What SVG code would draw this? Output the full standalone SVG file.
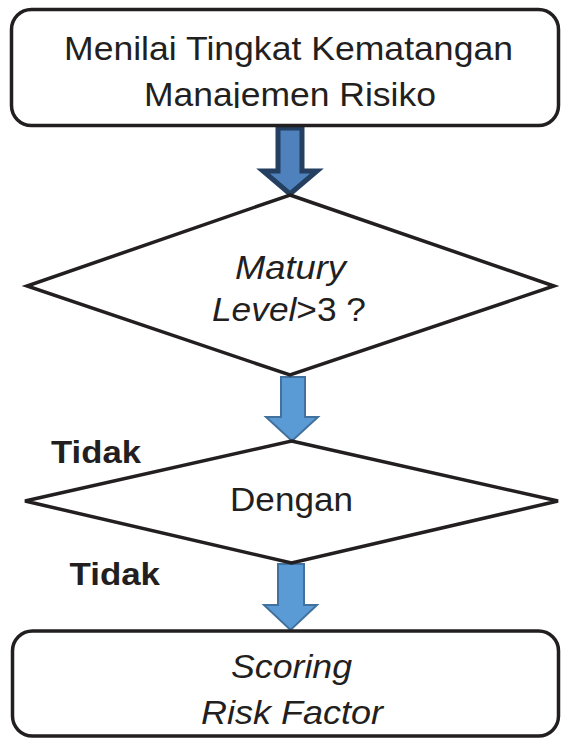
<svg xmlns="http://www.w3.org/2000/svg" width="561" height="739" viewBox="0 0 561 739">
<style>
.box{fill:#ffffff;stroke:#231f20;stroke-width:3.5}
.dia{fill:#ffffff;stroke:#231f20;stroke-width:3.5;stroke-linejoin:miter}
.t{font-family:"Liberation Sans",Arial,sans-serif;font-size:33px;fill:#231f20}
.i{font-style:italic}
.b{font-weight:bold;font-size:32px}
.a1{fill:#4f81bd;stroke:#243f60;stroke-width:5;stroke-linejoin:miter}
.a2{fill:#5b9bd5;stroke:#41719c;stroke-width:2;stroke-linejoin:miter}
</style>
<defs>
<clipPath id="clipTop"><rect x="0" y="0" width="561" height="108"/></clipPath>
<clipPath id="clipBot"><rect x="0" y="630" width="561" height="94"/></clipPath>
</defs>
<rect width="561" height="739" fill="#ffffff"/>
<g id="connectors">
<polygon class="a1" points="278,128 302,128 302,171 317,171 290,194 263,171 278,171"/>
<polygon class="a2" points="281,377 305,377 305,417 318,417 292,441 266,417 281,417"/>
<polygon class="a2" points="278,564 304,564 304,605 317,605 290.5,630 264,605 278,605"/>
</g>
<g id="node-assess">
<rect class="box" x="11.5" y="9.5" width="547" height="116" rx="20" ry="20"/>
<g clip-path="url(#clipTop)">
<text class="t" x="64" y="60" textLength="449" lengthAdjust="spacingAndGlyphs">Menilai Tingkat Kematangan</text>
<text class="t" x="144" y="106" textLength="292" lengthAdjust="spacingAndGlyphs">Manajemen Risiko</text>
</g>
</g>
<g id="node-decision1">
<polygon class="dia" points="290,195 554,286 290,375 27,286"/>
<text class="t i" x="235" y="279" textLength="111" lengthAdjust="spacingAndGlyphs">Matury</text>
<text class="t" x="212" y="321" textLength="154" lengthAdjust="spacingAndGlyphs"><tspan class="i">Level</tspan>&gt;3 ?</text>
</g>
<g id="node-decision2">
<polygon class="dia" points="291.5,441 558,501 291.5,563 25,501"/>
<text class="t" x="230" y="511" textLength="123" lengthAdjust="spacingAndGlyphs">Dengan</text>
</g>
<g id="label-tidak1">
<text class="t b" x="51" y="462.5" textLength="90" lengthAdjust="spacingAndGlyphs">Tidak</text>
</g>
<g id="label-tidak2">
<text class="t b" x="69.5" y="585" textLength="90.5" lengthAdjust="spacingAndGlyphs">Tidak</text>
</g>
<g id="node-scoring">
<rect class="box" x="12.5" y="631" width="546" height="105" rx="20" ry="20"/>
<g clip-path="url(#clipBot)">
<text class="t i" x="231" y="678" textLength="121" lengthAdjust="spacingAndGlyphs">Scoring</text>
<text class="t i" x="201" y="723.5" textLength="182" lengthAdjust="spacingAndGlyphs">Risk Factor</text>
</g>
</g>
</svg>
